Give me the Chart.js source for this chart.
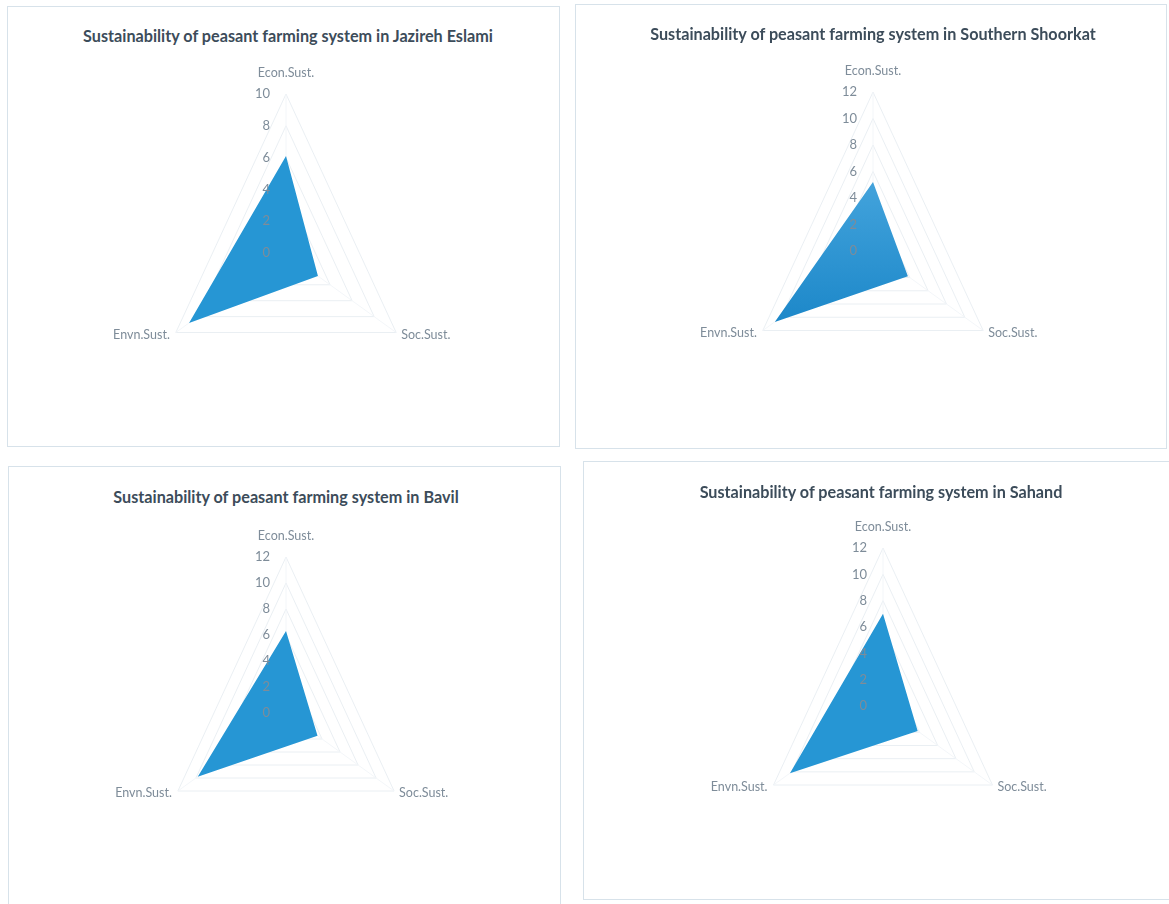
<!DOCTYPE html>
<html>
<head>
<meta charset="utf-8">
<script src="https://cdn.jsdelivr.net/npm/chart.js@4/dist/chart.umd.min.js"></script>
<style>
  html, body { margin: 0; padding: 0; background: #ffffff; width: 1169px; height: 904px; overflow: hidden; }
  .panel { position: absolute; border: 1.5px solid #d7e2ea; box-sizing: border-box; background: #ffffff; }
  .panel canvas { position: absolute; left: 0; top: 0; }
  .title { position: absolute; width: 640px; text-align: center; white-space: nowrap;
           font: bold 16.2px Lato, "Open Sans", sans-serif; color: #3c4c5a; }
</style>
</head>
<body>
<script>
// Radar axes, clockwise from the top
const categories = ['Econ.Sust.', 'Soc.Sust.', 'Envn.Sust.'];

// Sustainability scores per site (Econ, Soc, Envn)
const jazirehEslami    = [6.1, 2.9, 8.8];
const southernShoorkat = [5.2, 3.8, 10.7];
const bavil            = [6.3, 3.5, 9.8];
const sahand           = [7.0, 3.8, 10.2];

const siteNames = ['Jazireh Eslami', 'Southern Shoorkat', 'Bavil', 'Sahand'];
const siteScores = [jazirehEslami, southernShoorkat, bavil, sahand];

// Radial axis range and tick spacing per chart
const axisMax = [10, 12, 12, 12];
const tickStep = 2;

// Page layout of the four panels (box, title centre, radar centre and radius)
const layout = [
  { left: 7,   top: 6,   w: 553, h: 441, titleX: 287, titleY: 36,  cx: 285, cy: 252, r: 159 },
  { left: 575, top: 4,   w: 592, h: 445, titleX: 872, titleY: 34,  cx: 872, cy: 250, r: 159 },
  { left: 8,   top: 466, w: 553, h: 442, titleX: 285, titleY: 497, cx: 285, cy: 712, r: 156 },
  { left: 583, top: 461, w: 590, h: 439, titleX: 880, titleY: 492, cx: 882, cy: 705, r: 158 }
];

const fillBlue = '#2696d4';
const labelGrey = '#7e8c99';
const squish = 0.8;   // horizontal compression of the radar plot

// Narrows the radar horizontally and draws tick / category labels on top
const radarLook = {
  id: 'radarLook',
  beforeDraw(chart) {
    const s = chart.scales.r, ctx = chart.ctx;
    ctx.save();
    ctx.translate(s.xCenter, 0);
    ctx.scale(squish, 1);
    ctx.translate(-s.xCenter, 0);
  },
  afterDatasetsDraw(chart) {
    const s = chart.scales.r, ctx = chart.ctx;
    ctx.restore();
    const sq = p => ({ x: s.xCenter + (p.x - s.xCenter) * squish, y: p.y });
    ctx.save();
    ctx.fillStyle = labelGrey;
    ctx.font = '13px Lato, "Open Sans", sans-serif';
    ctx.textAlign = 'right';
    ctx.textBaseline = 'middle';
    s.ticks.forEach(t => {
      const p = s.getPointPositionForValue(0, t.value);
      ctx.fillText(t.label, s.xCenter - 16, p.y);
    });
    ctx.font = '12.5px Lato, "Open Sans", sans-serif';
    chart.data.labels.forEach((lab, i) => {
      const p = sq(s.getPointPositionForValue(i, s.max));
      if (i === 0) {
        ctx.textAlign = 'center';
        ctx.fillText(lab, p.x, p.y - 21);
      } else if (p.x > s.xCenter) {
        ctx.textAlign = 'left';
        ctx.fillText(lab, p.x + 5, p.y + 2);
      } else {
        ctx.textAlign = 'right';
        ctx.fillText(lab, p.x - 6, p.y + 2);
      }
    });
    ctx.restore();
  }
};

function shadedFill(context) {
  const chart = context.chart, a = chart.chartArea;
  if (!a) return fillBlue;
  const g = chart.ctx.createLinearGradient(0, a.top, 0, a.bottom);
  g.addColorStop(0.0, '#62b2e2');
  g.addColorStop(0.35, '#3d9fd9');
  g.addColorStop(0.75, '#1a86c8');
  g.addColorStop(1.0, '#1a86c8');
  return g;
}

layout.forEach((L, k) => {
  const panel = document.createElement('div');
  panel.className = 'panel';
  panel.style.left = L.left + 'px';
  panel.style.top = L.top + 'px';
  panel.style.width = L.w + 'px';
  panel.style.height = L.h + 'px';
  document.body.appendChild(panel);

  const title = document.createElement('div');
  title.className = 'title';
  title.textContent = 'Sustainability of peasant farming system in ' + siteNames[k];
  title.style.left = (L.titleX - L.left - 320) + 'px';
  title.style.top = (L.titleY - L.top - 11) + 'px';
  panel.appendChild(title);

  const canvas = document.createElement('canvas');
  canvas.width = L.w;
  canvas.height = L.h;
  canvas.style.width = L.w + 'px';
  canvas.style.height = L.h + 'px';
  panel.appendChild(canvas);

  const lx = L.cx - L.left, ly = L.cy - L.top;

  new Chart(canvas, {
    type: 'radar',
    data: {
      labels: categories,
      datasets: [{
        data: siteScores[k],
        fill: true,
        backgroundColor: k === 1 ? shadedFill : fillBlue,
        borderWidth: 0,
        pointRadius: 0,
        tension: 0
      }]
    },
    options: {
      responsive: false,
      animation: false,
      devicePixelRatio: 1,
      layout: {
        padding: {
          left: lx - L.r,
          top: ly - L.r,
          right: L.w - (lx + L.r),
          bottom: L.h - (ly + L.r)
        }
      },
      plugins: { legend: { display: false }, tooltip: { enabled: false }, title: { display: false } },
      scales: {
        r: {
          min: 0,
          max: axisMax[k],
          ticks: { display: false, stepSize: tickStep },
          pointLabels: { display: false },
          grid: { color: '#e8edf2', lineWidth: 1 },
          angleLines: { display: true, color: '#f2f5f8', lineWidth: 1 }
        }
      }
    },
    plugins: [radarLook]
  });
});
</script>
</body>
</html>
